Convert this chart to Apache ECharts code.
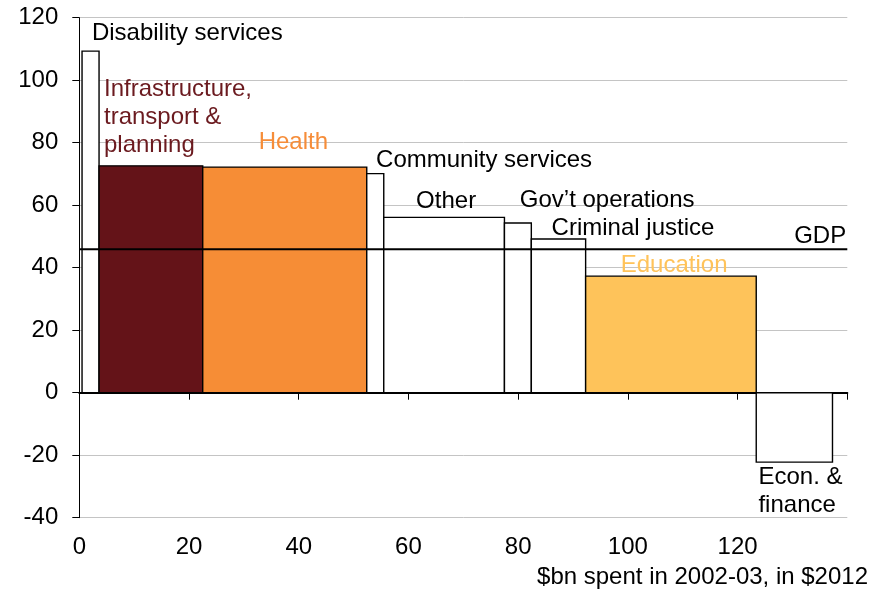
<!DOCTYPE html>
<html>
<head>
<meta charset="utf-8">
<script src="https://cdn.jsdelivr.net/npm/echarts@6/dist/echarts.min.js"></script>
<style>
  * { margin: 0; padding: 0; }
  html, body { background: #fff; }
  #main { width: 890px; height: 593px; }
</style>
</head>
<body>
<div id="main"></div>
<script>
// spending areas, in the order they sit along the x axis
const categories = ['Disability services', 'Infrastructure, transport & planning', 'Health',
  'Community services', 'Other', 'Gov’t operations', 'Criminal justice', 'Education', 'Econ. & finance'];
// bar width: $bn spent in 2002-03
const spend = [3.1, 18.9, 29.9, 3.1, 22.0, 4.9, 9.9, 31.1, 13.9];
// bar height: real growth in spending (%)
const growth = [109.3, 72.6, 72.2, 70.1, 56.1, 54.3, 49.2, 37.3, -22.2];
const gdpGrowth = 45.9;
const xStart = 0.5;

const FONT = '"Liberation Sans", Arial, sans-serif';
const FS = 24;
const fills = ['#fff', '#641318', '#F68D36', '#fff', '#fff', '#fff', '#fff', '#FEC35A', '#fff'];

// bars as [from, to, growth]
let acc = xStart;
const bars = spend.map((w, i) => {
  const item = [acc, acc + w, growth[i]];
  acc += w;
  return item;
});

// label placement (data coords)
const labels = [
  { text: 'Disability services', x: 2.3, y: 115.1, color: '#000' },
  { text: 'Infrastructure,\ntransport &\nplanning', x: 4.5, y: 88.2, color: '#6B1A1F' },
  { text: 'Health', x: 32.7, y: 80.2, color: '#F68D39' },
  { text: 'Community services', x: 54.1, y: 74.5, color: '#000' },
  { text: 'Other', x: 61.4, y: 61.3, color: '#000' },
  { text: 'Gov’t operations', x: 80.3, y: 61.7, color: '#000' },
  { text: 'Criminal justice', x: 86.1, y: 52.7, color: '#000' },
  { text: 'GDP', x: 139.8, y: 50.1, color: '#000', align: 'right' },
  { text: 'Education', x: 98.7, y: 40.9, color: '#FFC35A' },
  { text: 'Econ. &\nfinance', x: 123.8, y: -31.6, color: '#000' }
];

const chart = echarts.init(document.getElementById('main'));
chart.setOption({
  animation: false,
  backgroundColor: '#fff',
  textStyle: { fontFamily: FONT },
  title: {
    text: '$bn spent in 2002-03, in $2012',
    right: 22,
    top: 565,
    padding: 0,
    textStyle: { fontSize: FS, fontWeight: 'normal', color: '#000', fontFamily: FONT }
  },
  grid: { left: 79.3, right: 42.7, top: 17.7, bottom: 75.3, outerBoundsMode: 'none', containLabel: false },
  xAxis: {
    type: 'value',
    min: 0,
    max: 140,
    interval: 20,
    axisLine: { onZero: true, lineStyle: { color: '#000', width: 2 } },
    axisTick: { show: true, length: 7, lineStyle: { color: '#000', width: 1 } },
    axisLabel: {
      margin: 18,
      fontSize: FS,
      color: '#000',
      fontFamily: FONT,
      formatter: v => (v === 140 ? '' : v)
    },
    splitLine: { show: false }
  },
  yAxis: {
    type: 'value',
    min: -40,
    max: 120,
    interval: 20,
    axisLine: { show: true, lineStyle: { color: '#000', width: 1 } },
    axisTick: { show: true, length: 7, lineStyle: { color: '#000' } },
    axisLabel: { margin: 21, fontSize: FS, color: '#000', fontFamily: FONT },
    splitLine: { show: true, lineStyle: { color: '#C4C4C4', width: 1 } }
  },
  series: [
    {
      type: 'custom',
      name: 'spend',
      silent: true,
      encode: { x: [0, 1], y: 2 },
      data: bars,
      renderItem: function (params, api) {
        const p0 = api.coord([api.value(0), api.value(2)]);
        const p1 = api.coord([api.value(1), 0]);
        return {
          type: 'rect',
          shape: {
            x: Math.min(p0[0], p1[0]),
            y: Math.min(p0[1], p1[1]),
            width: Math.abs(p1[0] - p0[0]),
            height: Math.abs(p1[1] - p0[1])
          },
          style: { fill: fills[params.dataIndex], stroke: '#000', lineWidth: 1.4 }
        };
      }
    },
    {
      type: 'line',
      name: 'GDP',
      silent: true,
      symbol: 'none',
      z: 3,
      lineStyle: { color: '#000', width: 2 },
      data: [[0, gdpGrowth], [140, gdpGrowth]]
    },
    {
      type: 'custom',
      name: 'labels',
      silent: true,
      z: 5,
      data: labels.map(d => [d.x, d.y]),
      renderItem: function (params, api) {
        const d = labels[params.dataIndex];
        const pt = api.coord([api.value(0), api.value(1)]);
        return {
          type: 'text',
          x: pt[0],
          y: pt[1],
          style: {
            text: d.text,
            fill: d.color,
            fontSize: FS,
            fontFamily: FONT,
            lineHeight: 28,
            align: d.align || 'left',
            verticalAlign: 'middle'
          }
        };
      }
    }
  ]
});
</script>
</body>
</html>
